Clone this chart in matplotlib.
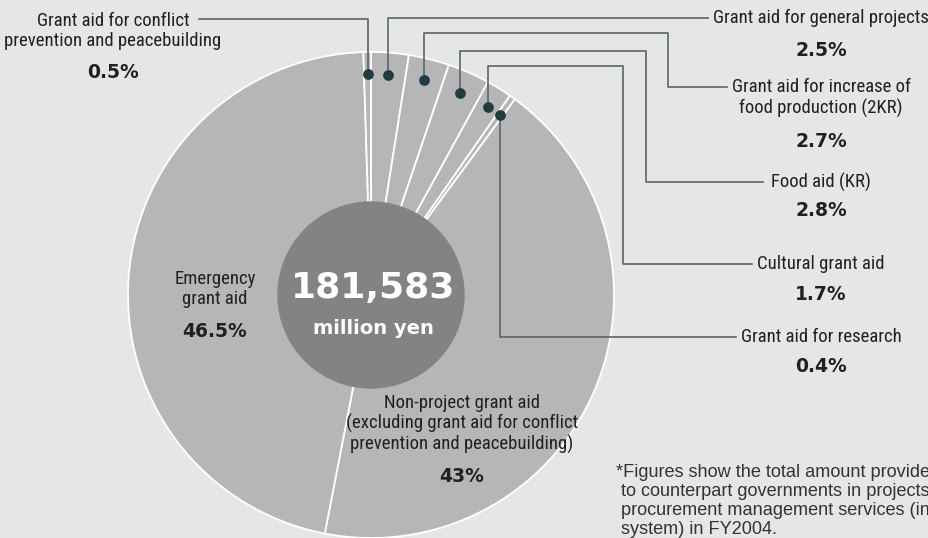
import numpy as np
import matplotlib
matplotlib.use('Agg')
import matplotlib.pyplot as plt
from matplotlib.patches import Circle

# slice data, clockwise from 12 o'clock
slice_names = ['Grant aid for general projects',
               'Grant aid for increase of\nfood production (2KR)',
               'Food aid (KR)',
               'Cultural grant aid',
               'Grant aid for research',
               'Non-project grant aid\n(excluding grant aid for conflict\nprevention and peacebuilding)',
               'Emergency\ngrant aid',
               'Grant aid for conflict\nprevention and peacebuilding']
slice_pcts = [2.5, 2.7, 2.8, 1.7, 0.4, 43, 46.5, 0.5]
pct_labels = ['2.5%', '2.7%', '2.8%', '1.7%', '0.4%', '43%', '46.5%', '0.5%']
total_amount = '181,583'
total_unit = 'million yen'
footnote = ('*Figures show the total amount provided\n'
            ' to counterpart governments in projects\n'
            ' procurement management services (including\n'
            ' system) in FY2004.')

W, H = 929, 538
bg = '#e6e6e6'
piecol = '#b7b6b7'
centercol = '#828384'
linecol = '#55686a'
dotcol = '#1f3c3f'
txtcol = '#231f20'
narrow = ['Roboto Condensed', 'DejaVu Sans']

fig = plt.figure(figsize=(W/100, H/100), dpi=100, facecolor=bg)
ax = fig.add_axes([0, 0, 1, 1])
ax.set_facecolor(bg)

cx, cy, R = 371, 295, 243
wedges, _ = ax.pie(slice_pcts, center=(cx, cy), radius=R, startangle=-90,
                   counterclock=True, colors=[piecol]*len(slice_pcts),
                   wedgeprops=dict(edgecolor='white', linewidth=1.3))
ax.add_patch(Circle((cx, cy), 93, color=centercol, zorder=3))
ax.set_xlim(0, W)
ax.set_ylim(H, 0)
ax.axis('off')

ax.text(cx+2, cy-7, total_amount, color='white', fontsize=26, fontweight='bold',
        ha='center', va='center', zorder=4)
ax.text(cx+2, cy+34, total_unit, color='white', fontsize=14, fontweight='bold',
        ha='center', va='center', zorder=4)

# leader lines: (index, path after the dot, label x, label y, pct y)
leaders = [
    (7, [(None, 19), (199, 19)], 113, 31, 72),
    (0, [(None, 18), (708, 18)], 821, 18, 50),
    (1, [(None, 33), (668, 33), (668, 87), (727, 87)], 821, 98, 141),
    (2, [(None, 51), (646, 51), (646, 182), (763, 182)], 821, 182, 211),
    (3, [(None, 66), (623, 66), (623, 264), (752, 264)], 821, 264, 294),
    (4, [(None, 337), (736, 337)], 821, 337, 367),
]
for idx, path, lx, ly, py in leaders:
    w = wedges[idx]
    mid = np.deg2rad((w.theta1 + w.theta2) / 2)
    dx = cx + 0.91*R*np.cos(mid)
    dy = cy + 0.91*R*np.sin(mid)
    xs = [dx] + [dx if p[0] is None else p[0] for p in path]
    ys = [dy] + [p[1] for p in path]
    ax.plot(xs, ys, color=linecol, lw=1.2, zorder=5)
    ax.scatter([dx], [dy], s=45, color=dotcol, zorder=6)
    ax.text(lx, ly, slice_names[idx], ha='center', va='center', family=narrow,
            fontsize=13.5, color=txtcol, linespacing=1.15)
    ax.text(lx, py, pct_labels[idx], ha='center', va='center', fontsize=13.5,
            fontweight='bold', color=txtcol)

# labels inside the pie
ax.text(215, 289, slice_names[6], ha='center', va='center', family=narrow,
        fontsize=13.5, color=txtcol, linespacing=1.2)
ax.text(215, 332, pct_labels[6], ha='center', va='center', fontsize=13.5,
        fontweight='bold', color=txtcol)
ax.text(462, 424, slice_names[5], ha='center', va='center', family=narrow,
        fontsize=13.5, color=txtcol, linespacing=1.1)
ax.text(462, 477, pct_labels[5], ha='center', va='center', fontsize=13.5,
        fontweight='bold', color=txtcol)

ax.text(616, 501, footnote, ha='left', va='center', family=['Liberation Sans'],
        fontsize=13.1, color='#333333', linespacing=1.15)

fig.savefig('out.png', dpi=100, facecolor=bg)
